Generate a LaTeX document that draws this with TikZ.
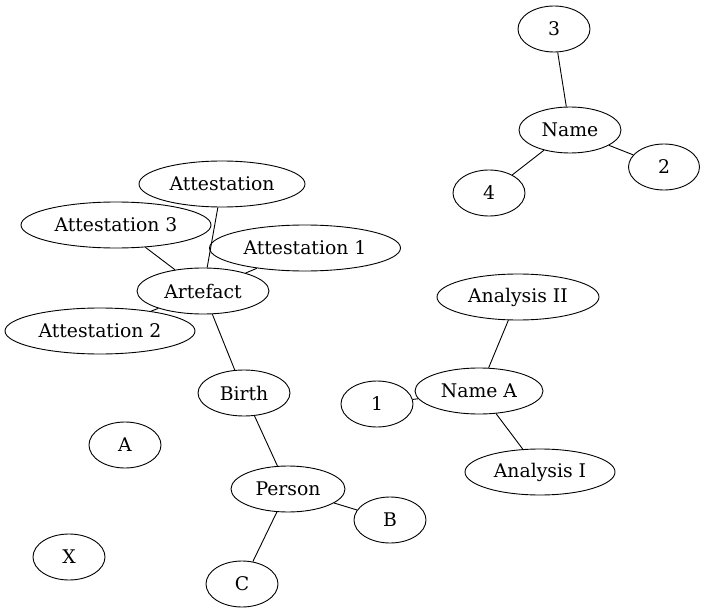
\documentclass[tikz,border=0pt]{standalone}
\usepackage{fontspec}
\setmainfont{DejaVu Serif}
\usetikzlibrary{shapes.geometric}
\tikzset{ell/.style={ellipse,draw,line width=.9pt,minimum height=46pt,inner sep=0pt,font=\fontsize{18.8}{22}\selectfont}}
\begin{document}
\begin{tikzpicture}[x=1pt,y=-1pt,line width=.9pt]
\useasboundingbox (0,0) rectangle (707,615);
\node (n3) at (554,29) [ell,minimum width=72pt]{3};
\node (name) at (570,130) [ell,minimum width=102pt]{Name};
\node (n2) at (664,167) [ell,minimum width=71pt]{2};
\node (n4) at (489,193) [ell,minimum width=72pt]{4};
\node (att) at (222,184) [ell,minimum width=166pt]{Attestation};
\node (att3) at (116,225) [ell,minimum width=190pt]{Attestation 3};
\node (att1) at (305,248) [ell,minimum width=191pt]{Attestation 1};
\node (art) at (203,291) [ell,minimum width=132pt]{Artefact};
\node (att2) at (100,331) [ell,minimum width=190pt]{Attestation 2};
\node (an2) at (518,297) [ell,minimum width=162pt]{Analysis II};
\node (namea) at (479,391) [ell,minimum width=128pt]{Name A};
\node (n1) at (377,404) [ell,minimum width=72pt]{1};
\node (an1) at (540,472) [ell,minimum width=150pt]{Analysis I};
\node (birth) at (244,393) [ell,minimum width=92pt]{Birth};
\node (a) at (125,445) [ell,minimum width=72pt]{A};
\node (person) at (288,489) [ell,minimum width=114pt]{Person};
\node (b) at (390,520) [ell,minimum width=72pt]{B};
\node (c) at (242,584) [ell,minimum width=72pt]{C};
\node (x) at (69,557) [ell,minimum width=72pt]{X};

\draw (n3)--(name);
\draw (name)--(n2);
\draw (name)--(n4);
\draw (att)--(art);
\draw (att3)--(art);
\draw (att1)--(art);
\draw (att2)--(art);
\draw (art)--(birth);
\draw (birth)--(person);
\draw (person)--(b);
\draw (person)--(c);
\draw (an2)--(namea);
\draw (namea)--(n1);
\draw (namea)--(an1);
\end{tikzpicture}
\end{document}
